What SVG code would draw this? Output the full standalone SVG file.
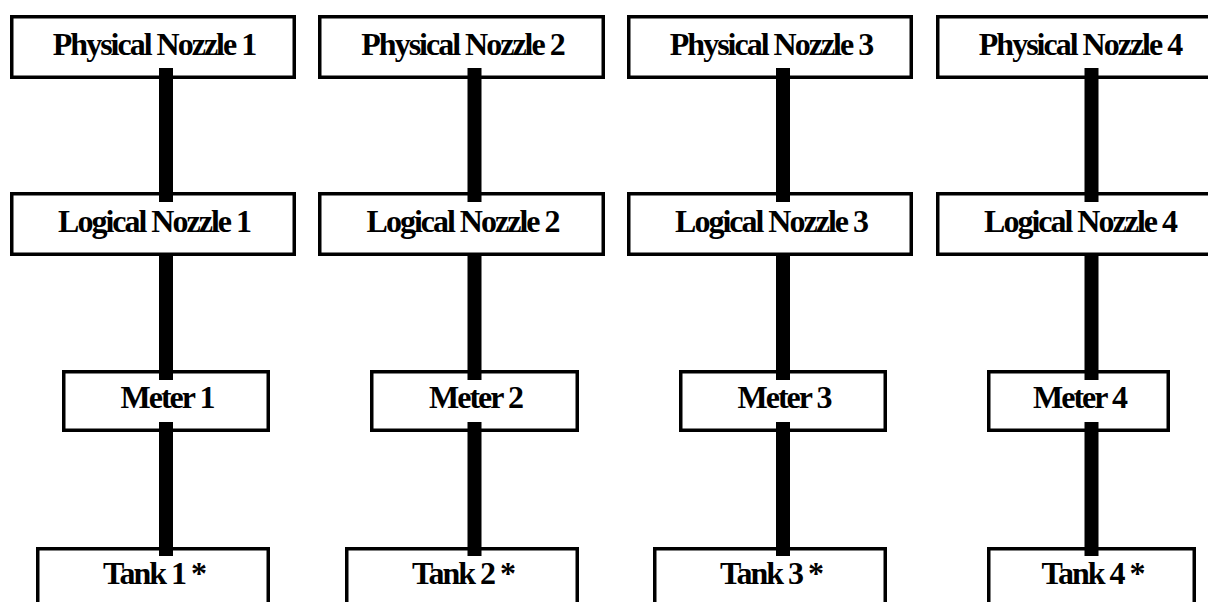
<svg xmlns="http://www.w3.org/2000/svg" width="1208" height="602" viewBox="0 0 1208 602">
<style>
.box{fill:#fff;stroke:#000;stroke-width:3.5}
.lbl{font-weight:bold;font-size:32px;letter-spacing:-2px;text-anchor:middle;fill:#000}
.conn{stroke:#000;stroke-width:14;fill:none}
</style>
<rect width="1208" height="602" fill="#fff"/>
<g font-family="Liberation Serif, serif">
<g id="physical1"><rect class="box" x="11.75" y="16.75" width="282.5" height="60.5"/><text class="lbl" x="154" y="55">Physical Nozzle 1</text></g>
<g id="physical2"><rect class="box" x="319.75" y="16.75" width="283.5" height="60.5"/><text class="lbl" x="462.5" y="55">Physical Nozzle 2</text></g>
<g id="physical3"><rect class="box" x="628.75" y="16.75" width="282.5" height="60.5"/><text class="lbl" x="771" y="55">Physical Nozzle 3</text></g>
<g id="physical4"><rect class="box" x="937.75" y="16.75" width="282.5" height="60.5"/><text class="lbl" x="1080" y="55">Physical Nozzle 4</text></g>

<g id="logical1"><rect class="box" x="11.75" y="193.75" width="282.5" height="60.5"/><text class="lbl" x="154" y="232">Logical Nozzle 1</text></g>
<g id="logical2"><rect class="box" x="319.75" y="193.75" width="283.5" height="60.5"/><text class="lbl" x="462.5" y="232">Logical Nozzle 2</text></g>
<g id="logical3"><rect class="box" x="628.75" y="193.75" width="282.5" height="60.5"/><text class="lbl" x="771" y="232">Logical Nozzle 3</text></g>
<g id="logical4"><rect class="box" x="937.75" y="193.75" width="282.5" height="60.5"/><text class="lbl" x="1080" y="232">Logical Nozzle 4</text></g>

<g id="meter1"><rect class="box" x="63.75" y="371.75" width="204.5" height="58.5"/><text class="lbl" x="167" y="408">Meter 1</text></g>
<g id="meter2"><rect class="box" x="371.75" y="371.75" width="205.5" height="58.5"/><text class="lbl" x="475.5" y="408">Meter 2</text></g>
<g id="meter3"><rect class="box" x="680.75" y="371.75" width="204.5" height="58.5"/><text class="lbl" x="784" y="408">Meter 3</text></g>
<g id="meter4"><rect class="box" x="988.75" y="371.75" width="179.5" height="58.5"/><text class="lbl" x="1079.5" y="408">Meter 4</text></g>

<g id="tank1"><rect class="box" x="37.75" y="548.75" width="230.5" height="70"/><text class="lbl" x="154" y="584">Tank 1 *</text></g>
<g id="tank2"><rect class="box" x="346.75" y="548.75" width="230.5" height="70"/><text class="lbl" x="463" y="584">Tank 2 *</text></g>
<g id="tank3"><rect class="box" x="654.75" y="548.75" width="230.5" height="70"/><text class="lbl" x="771" y="584">Tank 3 *</text></g>
<g id="tank4"><rect class="box" x="988.75" y="548.75" width="205.5" height="70"/><text class="lbl" x="1092.5" y="584">Tank 4 *</text></g>
</g>
<g id="connectors">
<path class="conn" d="M166 68V202M166 256V380M166 422V556"/>
<path class="conn" d="M474.5 68V202M474.5 256V380M474.5 422V556"/>
<path class="conn" d="M783 68V202M783 256V380M783 422V556"/>
<path class="conn" d="M1091.5 68V202M1091.5 256V380M1091.5 422V556"/>
</g>
</svg>
